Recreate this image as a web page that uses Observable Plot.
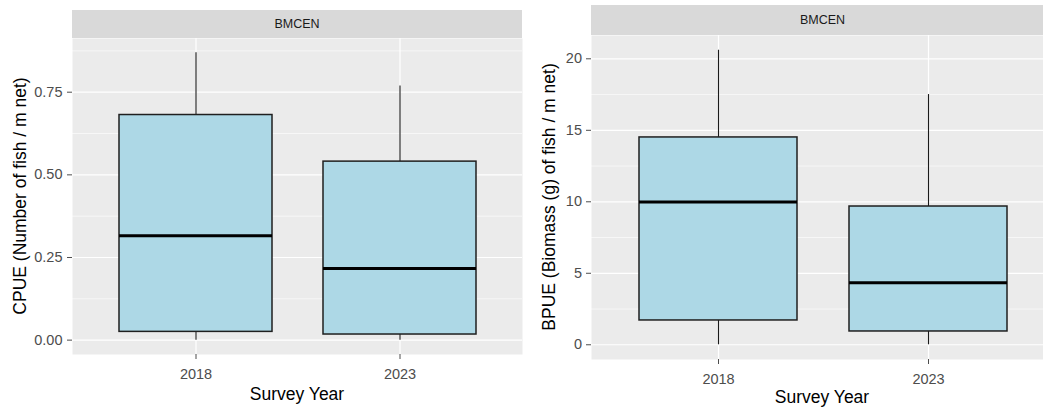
<!DOCTYPE html>
<html><head><meta charset="utf-8">
<script src="https://cdn.jsdelivr.net/npm/d3@7"></script>
<script src="https://cdn.jsdelivr.net/npm/@observablehq/plot@0.6"></script>
<style>
body{margin:0;background:#fff;font-family:"Liberation Sans",Arial,sans-serif;}
#root{position:relative;width:1043px;height:412px;overflow:hidden;background:#fff;}
#root svg{max-width:none !important;}
#root svg text{font-size:14.5px !important;}
.abs{position:absolute;}
.strip{background:#D9D9D9;color:#1A1A1A;font-size:12.5px;display:flex;align-items:center;justify-content:center;}
.title{font-size:17.5px;color:#000;white-space:nowrap;transform:translate(-50%,-50%);line-height:1;}
.ytitle{transform:translate(-50%,-50%) rotate(-90deg);}
</style></head><body><div id="root"></div>
<script>
const years = ["2018", "2023"];
const cpueMin = [0, 0];
const cpueQ1 = [0.025, 0.017];
const cpueMed = [0.316, 0.217];
const cpueQ3 = [0.681, 0.540];
const cpueMax = [0.869, 0.769];
const cpueTicks = [0, 0.25, 0.5, 0.75];
const bpueMin = [0, 0];
const bpueQ1 = [1.70, 0.93];
const bpueMed = [9.98, 4.34];
const bpueQ3 = [14.5, 9.67];
const bpueMax = [20.6, 17.5];
const bpueTicks = [0, 5, 10, 15, 20];
const stripLabel = "BMCEN";
const xTitle = "Survey Year";
const cpueTitle = "CPUE (Number of fish / m net)";
const bpueTitle = "BPUE (Biomass (g) of fish / m net)";

function boxChart({min, q1, med, q3, max, ticks, fmt, width, height, marginLeft, marginTop, marginBottom, tickPadding}) {
  const rows = years.map((y, i) => ({year: y, min: min[i], q1: q1[i], med: med[i], q3: q3[i], max: max[i]}));
  const lo = d3.min(min), hi = d3.max(max), pad = (hi - lo) * 0.05;
  const dom = [lo - pad, hi + pad];
  const step = ticks[1] - ticks[0];
  const minor = [];
  for (let t = ticks[0] - step / 2; t <= ticks[ticks.length - 1] + step / 2 + 1e-9; t += step) {
    if (t >= dom[0] && t <= dom[1]) minor.push(t);
  }
  return Plot.plot({
    width, height, marginLeft, marginRight: 0, marginTop, marginBottom,
    style: {fontFamily: "Liberation Sans, Arial, sans-serif", fontSize: "14.5px", background: "transparent", overflow: "visible", maxWidth: "none"},
    x: {type: "band", domain: years, paddingInner: 0.25, paddingOuter: 0.225, label: null},
    y: {domain: dom, label: null},
    marks: [
      Plot.frame({fill: "#EBEBEB", stroke: "none"}),
      Plot.ruleY(minor, {stroke: "#fff", strokeWidth: 0.6}),
      Plot.ruleY(ticks, {stroke: "#fff", strokeWidth: 1.2}),
      Plot.ruleX(years, {stroke: "#fff", strokeWidth: 1.2}),
      Plot.ruleX(rows, {x: "year", y1: "q3", y2: "max", stroke: "#1a1a1a", strokeWidth: 1.1}),
      Plot.ruleX(rows, {x: "year", y1: "min", y2: "q1", stroke: "#1a1a1a", strokeWidth: 1.1}),
      Plot.rectY(rows, {x: "year", y1: "q1", y2: "q3", fill: "#ADD8E6", stroke: "#1f1f1f", strokeWidth: 1.5}),
      Plot.tickY(rows, {x: "year", y: "med", stroke: "#000", strokeWidth: 3}),
      Plot.axisY({ticks, tickFormat: fmt, tickSize: 5, tickPadding, fontSize: 14.5, color: "#4D4D4D", label: null}),
      Plot.axisX({tickSize: 5, tickPadding: 9, fontSize: 14.5, color: "#4D4D4D", label: null})
    ]
  });
}

const root = document.getElementById("root");
function addDiv(cls, text, style) {
  const d = document.createElement("div");
  d.className = cls;
  d.textContent = text;
  Object.assign(d.style, style);
  root.appendChild(d);
  return d;
}

// Left chart
const left = boxChart({min: cpueMin, q1: cpueQ1, med: cpueMed, q3: cpueQ3, max: cpueMax,
  ticks: cpueTicks, fmt: d3.format(".2f"), width: 522, height: 412,
  marginLeft: 72, marginTop: 38, marginBottom: 58, tickPadding: 5});
const lw = document.createElement("div");
lw.className = "abs";
Object.assign(lw.style, {left: "0px", top: "0px", width: "522px", height: "412px"});
lw.appendChild(left);
root.appendChild(lw);

// Right chart
const right = boxChart({min: bpueMin, q1: bpueQ1, med: bpueMed, q3: bpueQ3, max: bpueMax,
  ticks: bpueTicks, fmt: d3.format("d"), width: 531, height: 412,
  marginLeft: 68, marginTop: 35, marginBottom: 53, tickPadding: 4.5});
const rw = document.createElement("div");
rw.className = "abs";
Object.assign(rw.style, {left: "523px", top: "0px", width: "520px", height: "412px", overflow: "hidden"});
rw.appendChild(right);
root.appendChild(rw);

// Strips
addDiv("abs strip", stripLabel, {left: "72px", top: "10px", width: "450px", height: "28px"});
addDiv("abs strip", stripLabel, {left: "591px", top: "5px", width: "463px", height: "30px"});

// Titles
addDiv("abs title ytitle", cpueTitle, {left: "21px", top: "196px"});
addDiv("abs title ytitle", bpueTitle, {left: "550px", top: "197px"});
addDiv("abs title", xTitle, {left: "297px", top: "395px"});
addDiv("abs title", xTitle, {left: "822px", top: "398px"});
</script>
</body></html>
